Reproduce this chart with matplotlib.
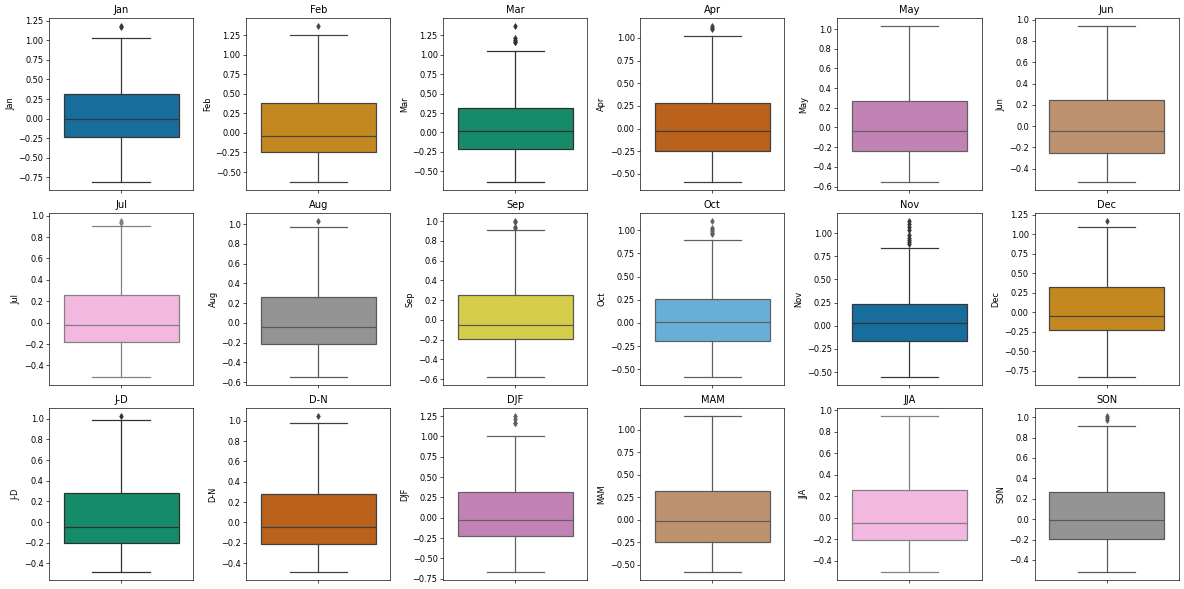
import colorsys
import matplotlib
matplotlib.use("Agg")
import matplotlib.pyplot as plt
import seaborn as sns

# summary stats
names = ["Jan", "Feb", "Mar", "Apr", "May", "Jun",
         "Jul", "Aug", "Sep", "Oct", "Nov", "Dec",
         "J-D", "D-N", "DJF", "MAM", "JJA", "SON"]
whislo = [-0.81, -0.63, -0.64, -0.59, -0.555, -0.525,
          -0.51, -0.55, -0.58, -0.585, -0.555, -0.83,
          -0.485, -0.49, -0.67, -0.585, -0.505, -0.52]
q1 = [-0.24, -0.24, -0.22, -0.25, -0.24, -0.25,
      -0.18, -0.215, -0.19, -0.20, -0.17, -0.22,
      -0.20, -0.21, -0.22, -0.25, -0.21, -0.19]
med = [-0.01, -0.04, 0.02, -0.03, -0.04, -0.05,
       -0.025, -0.045, -0.055, 0.01, 0.025, -0.05,
       -0.045, -0.05, -0.03, -0.02, -0.045, -0.01]
q3 = [0.31, 0.38, 0.32, 0.28, 0.27, 0.25,
      0.26, 0.26, 0.25, 0.26, 0.24, 0.33,
      0.28, 0.28, 0.32, 0.315, 0.26, 0.27]
whishi = [1.026, 1.25, 1.05, 1.02, 1.03, 0.94,
          0.90, 0.97, 0.91, 0.90, 0.84, 1.10,
          0.985, 0.975, 1.01, 1.15, 0.945, 0.91]
fliers = [[1.17, 1.18], [1.37], [1.16, 1.17, 1.19, 1.21, 1.37], [1.10, 1.11, 1.13], [], [],
          [0.93, 0.95], [1.03], [0.93, 0.94, 0.99, 1.0], [0.96, 0.97, 0.99, 1.01, 1.03, 1.10],
          [0.88, 0.90, 0.93, 0.95, 0.98, 1.03, 1.07, 1.10, 1.13], [1.17],
          [1.025], [1.045], [1.16, 1.17, 1.22, 1.25], [], [], [0.97, 0.99, 1.01]]

palette = sns.color_palette("colorblind", 10)

fig, axes = plt.subplots(3, 6, figsize=(20, 9.95), dpi=59.2)
plt.subplots_adjust(left=0.0416, right=0.9954, top=0.969, bottom=0.0153,
                    wspace=0.368, hspace=0.136)

for i, ax in enumerate(axes.flat):
  face = sns.desaturate(palette[i % 10], 0.75)
  lum = colorsys.rgb_to_hls(*face)[1] * 0.6
  gray = (lum, lum, lum)
  st = dict(med=med[i], q1=q1[i], q3=q3[i], whislo=whislo[i], whishi=whishi[i],
            fliers=fliers[i], label="")
  ax.bxp([st], positions=[0], widths=0.8, patch_artist=True,
         boxprops=dict(facecolor=face, edgecolor=gray, linewidth=1.5),
         medianprops=dict(color=gray, linewidth=1.5),
         whiskerprops=dict(color=gray, linewidth=1.5),
         capprops=dict(color=gray, linewidth=1.5),
         flierprops=dict(marker="d", markerfacecolor=gray, markeredgecolor=gray,
                         markersize=5, linestyle="none"))
  ax.set_xlim(-0.5, 0.5)
  lo = min([whislo[i]] + fliers[i])
  hi = max([whishi[i]] + fliers[i])
  pad = (hi - lo) * 0.05
  ax.set_ylim(lo - pad, hi + pad)
  ax.set_xticks([0])
  ax.set_xticklabels([""])
  ax.set_title(names[i], fontsize=12)
  ax.set_ylabel(names[i])

plt.savefig("out.png")
